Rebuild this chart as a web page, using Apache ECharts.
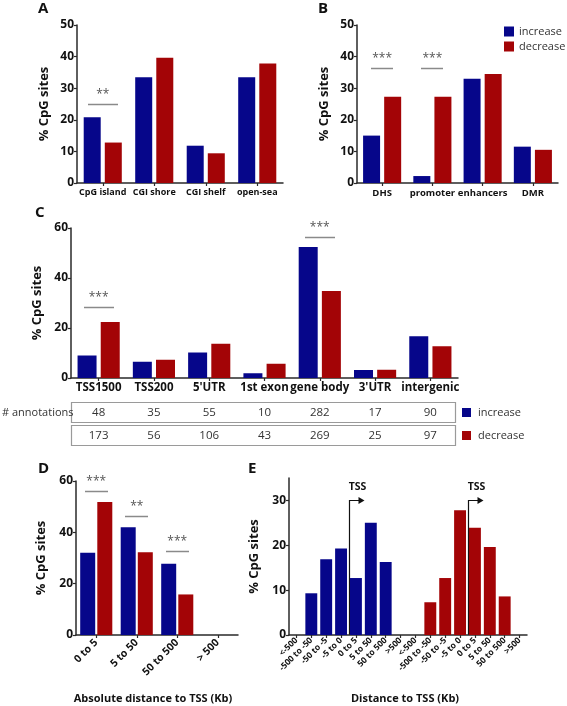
<!DOCTYPE html>
<html><head><meta charset="utf-8">
<script src="https://cdn.jsdelivr.net/npm/echarts@6/dist/echarts.min.js"></script>
<style>html,body{margin:0;padding:0;background:#fff}#c{width:567px;height:706px}</style>
</head><body><div id="c"></div>
<script>
// ---------- data ----------
const catA = ['CpG island','CGI shore','CGI shelf','open-sea'];
const incA = [20.8,33.5,11.8,33.5];
const decA = [12.8,39.6,9.4,37.8];
const sigA = [[0,25,'**']];

const catB = ['DHS','promoter','enhancers','DMR'];
const incB = [15.0,2.2,33.0,11.5];
const decB = [27.3,27.3,34.5,10.5];
const sigB = [[0,36.3,'***'],[1,36.3,'***']];

const catC = ['TSS1500','TSS200',"5'UTR",'1st exon','gene body',"3'UTR",'intergenic'];
const incC = [9.0,6.5,10.2,1.9,52.4,3.2,16.7];
const decC = [22.4,7.3,13.7,5.7,34.8,3.3,12.7];
const annIncC = [48,35,55,10,282,17,90];
const annDecC = [173,56,106,43,269,25,97];
const sigC = [[0,28.4,'***'],[4,56.4,'***']];

const catD = ['0 to 5','5 to 50','50 to 500','> 500'];
const incD = [32.0,42.0,27.8,0];
const decD = [51.8,32.2,15.8,0];
const sigD = [[0,56,'***'],[1,46.3,'**'],[2,32.7,'***']];

const distE = ['<-500','-500 to -50','-50 to -5','-5 to 0','0 to 5','5 to 50','50 to 500','>500'];
const incE = [0,9.3,16.9,19.3,12.7,25.0,16.3,0];
const decE = [0,7.3,12.7,27.8,23.9,19.6,8.6,0];

const seriesNames = ['increase','decrease'];
const yTicksAB = [0,10,20,30,40,50];
const yTicksCD = [0,20,40,60];
const yTicksE = [0,10,20,30];

// ---------- style ----------
const BLUE = '#06068a', RED = '#a30406';
const FONT = '"Open Sans", "DejaVu Sans", sans-serif';
const AX = '#2a2a2a';

const grids = [
  {left:77, top:25, width:206, height:158},
  {left:357, top:25, width:201, height:158},
  {left:71, top:228, width:387, height:150},
  {left:76, top:481, width:162, height:154},
  {left:289, top:478, width:238, height:157}
];

function xAx(gi, data, labelOpt) {
  return {
    type:'category', gridIndex:gi, data:data,
    axisLine:{lineStyle:{color:AX, width:1.5}},
    axisTick:{show:true, alignWithLabel:true, length:3, lineStyle:{color:AX, width:1.2}},
    axisLabel:Object.assign({color:'#111', fontWeight:'bold', fontFamily:FONT, fontSize:9, margin:5, interval:0, hideOverlap:false}, labelOpt||{})
  };
}
function yAx(gi, max, interval, gap, ticks) {
  return {
    type:'value', gridIndex:gi, min:0, max:max, interval:interval,
    name:'% CpG sites', nameLocation:'middle', nameGap:gap,
    nameTextStyle:{fontFamily:FONT, fontWeight:'bold', fontSize:13, color:'#111'},
    axisLine:{show:true, lineStyle:{color:AX, width:1.5}},
    axisTick:{show:true, length:3, lineStyle:{color:AX, width:1.2}, customValues:ticks},
    axisLabel:{color:'#111', fontWeight:'bold', fontFamily:FONT, fontSize:12, margin:3, customValues:ticks},
    splitLine:{show:false}
  };
}
function bars(gi, name, data, color, opt) {
  return Object.assign({type:'bar', name:name, xAxisIndex:gi, yAxisIndex:gi, data:data,
    itemStyle:{color:color}, silent:true, animation:false}, opt||{});
}

const keysE = distE.map((d,i)=>'n'+i).concat(distE.map((d,i)=>'p'+i));
const labelsE = distE.concat(distE);
const nulls = distE.map(()=>null);

const chart = echarts.init(document.getElementById('c'), null, {renderer:'canvas'});
chart.setOption({
  animation:false,
  textStyle:{fontFamily:FONT},
  grid:grids,
  legend:{
    data:seriesNames, orient:'vertical', left:499, top:21, itemWidth:10, itemHeight:10, itemGap:4,
    icon:'rect', textStyle:{fontFamily:FONT, fontSize:11, color:'#333'}, selectedMode:false
  },
  xAxis:[
    xAx(0, catA, {fontSize:9}),
    xAx(1, catB, {fontSize:9.5}),
    xAx(2, catC, {fontSize:11.5, margin:4}),
    xAx(3, catD, {fontSize:10.5, rotate:45, margin:6}),
    xAx(4, keysE, {fontSize:8.5, rotate:45, margin:4, formatter:(v,i)=>labelsE[i]})
  ],
  yAxis:[
    yAx(0, 50, 10, 26, yTicksAB),
    yAx(1, 50, 10, 26, yTicksAB),
    yAx(2, 60, 20, 26, yTicksCD),
    yAx(3, 60, 20, 28, yTicksCD),
    yAx(4, 35, 10, 28, yTicksE)
  ],
  series:[
    bars(0, seriesNames[0], incA, BLUE, {barWidth:17, barGap:'24%'}),
    bars(0, seriesNames[1], decA, RED, {barWidth:17, barGap:'24%'}),
    bars(1, seriesNames[0], incB, BLUE, {barWidth:17, barGap:'24%'}),
    bars(1, seriesNames[1], decB, RED, {barWidth:17, barGap:'24%'}),
    bars(2, seriesNames[0], incC, BLUE, {barWidth:19, barGap:'22%'}),
    bars(2, seriesNames[1], decC, RED, {barWidth:19, barGap:'22%'}),
    bars(3, seriesNames[0], incD, BLUE, {barWidth:15, barGap:'14%'}),
    bars(3, seriesNames[1], decD, RED, {barWidth:15, barGap:'14%'}),
    bars(4, seriesNames[0], incE.concat(nulls), BLUE, {barCategoryGap:'20%', barGap:'-100%'}),
    bars(4, seriesNames[1], nulls.concat(decE), RED, {barCategoryGap:'20%', barGap:'-100%'})
  ]
});

// ---------- annotations derived from axes ----------
function P(g, c, v) { return chart.convertToPixel({xAxisIndex:g, yAxisIndex:g}, [c, v]); }
function band(g) { return P(g,1,0)[0] - P(g,0,0)[0]; }
const G = [];
function txt(x, y, s, o) {
  G.push({type:'text', x:x, y:y, silent:true,
    style:Object.assign({text:s, fontFamily:FONT, fontSize:12, fill:'#111', align:'center', verticalAlign:'middle'}, o||{})});
}
function line(pts, color, w) {
  G.push({type:'polyline', silent:true, shape:{points:pts}, style:{stroke:color, lineWidth:w, fill:null}});
}
function sig(g, list, frac) {
  const bw = band(g);
  list.forEach(s => {
    const p = P(g, s[0], s[1]);
    const x0 = Math.round(p[0] - bw*frac), x1 = Math.round(p[0] + bw*frac);
    const y = Math.round(p[1]) + 0.5;
    line([[x0,y],[x1,y]], '#8a8a8a', 1.5);
    txt(p[0], y - 4, s[2], {fontSize:12, fill:'#555', verticalAlign:'bottom'});
  });
}
sig(0, sigA, 0.29);
sig(1, sigB, 0.22);
sig(2, sigC, 0.27);
sig(3, sigD, 0.28);

// panel letters
const letterStyle = {fontSize:15, fontWeight:'bold', align:'left', verticalAlign:'top', fill:'#111'};
txt(38, 1, 'A', letterStyle);
txt(318, 1, 'B', letterStyle);
txt(35, 205, 'C', letterStyle);
txt(38, 461, 'D', letterStyle);
txt(248, 461, 'E', letterStyle);

// table under C
const cl = grids[2].left, cr = grids[2].left + grids[2].width - 3;
G.push({type:'rect', silent:true, shape:{x:cl+0.5, y:402.5, width:cr-cl, height:20}, style:{stroke:'#9a9a9a', lineWidth:1.2, fill:null}});
G.push({type:'rect', silent:true, shape:{x:cl+0.5, y:425.5, width:cr-cl, height:20}, style:{stroke:'#9a9a9a', lineWidth:1.2, fill:null}});
txt(2, 412.5, '# annotations', {fontSize:11, align:'left', fill:'#333'});
catC.forEach((c,i) => {
  const x = P(2, i, 0)[0];
  txt(x, 412.5, String(annIncC[i]), {fontSize:11.5, fill:'#333'});
  txt(x, 435.5, String(annDecC[i]), {fontSize:11.5, fill:'#333'});
});
G.push({type:'rect', silent:true, shape:{x:462, y:408, width:9, height:9}, style:{fill:BLUE}});
G.push({type:'rect', silent:true, shape:{x:462, y:431, width:9, height:9}, style:{fill:RED}});
txt(478, 412.5, seriesNames[0], {fontSize:11, align:'left', fill:'#333'});
txt(478, 435.5, seriesNames[1], {fontSize:11, align:'left', fill:'#333'});

// x axis titles D, E
txt((grids[3].left + grids[3].left + grids[3].width)/2 - 4, 699, 'Absolute distance to TSS (Kb)', {fontSize:11, fontWeight:'bold'});
txt((grids[4].left + grids[4].left + grids[4].width)/2 - 3, 699, 'Distance to TSS (Kb)', {fontSize:11, fontWeight:'bold'});

// TSS arrows in E
[3, 11].forEach(i => {
  const bx = Math.round((P(4, i, 0)[0] + P(4, i+1, 0)[0]) / 2) + 0.5;
  const yb = P(4, 0, 0)[1];
  const yt = Math.round(P(4, 0, 30)[1]) + 0.5;
  line([[bx, yb],[bx, yt],[bx+10, yt]], '#111', 1.2);
  G.push({type:'polygon', silent:true, shape:{points:[[bx+9, yt-3.5],[bx+15, yt],[bx+9, yt+3.5]]}, style:{fill:'#111'}});
  txt(bx + 8, yt - 13, 'TSS', {fontSize:10.5, fontWeight:'bold'});
});

chart.setOption({graphic:G});
</script>
</body></html>
